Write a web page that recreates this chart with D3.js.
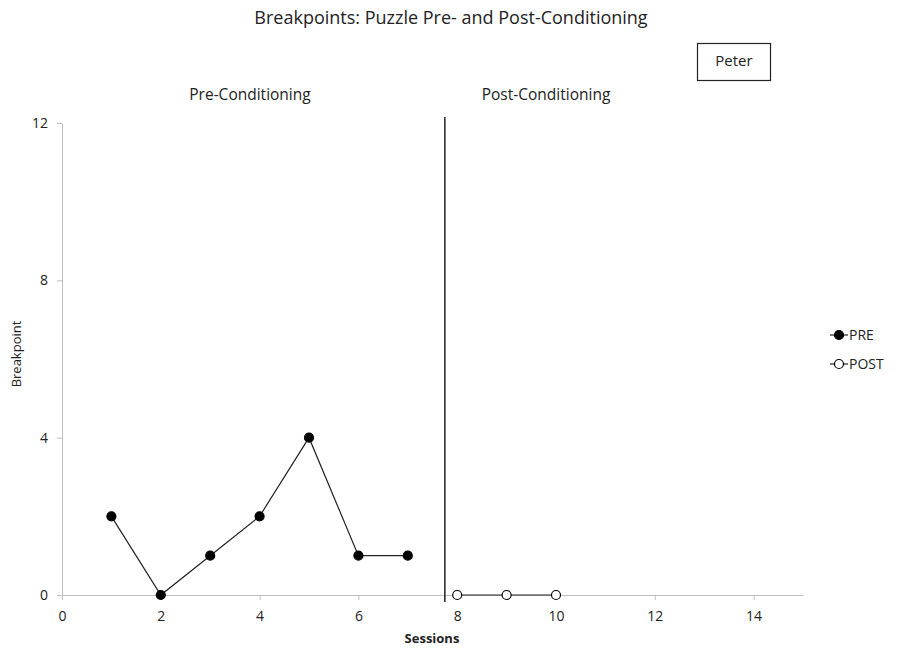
<!DOCTYPE html>
<html>
<head>
<meta charset="utf-8">
<script src="https://cdn.jsdelivr.net/npm/d3@7"></script>
<style>
  body { margin: 0; background: #fff; }
  text { font-family: "Open Sans", "Noto Sans", sans-serif; fill: #222; }
</style>
</head>
<body>
<div id="chart"></div>
<script>
// data
var preSessions = [1, 2, 3, 4, 5, 6, 7];
var preValues = [2, 0, 1, 2, 4, 1, 1];
var postSessions = [8, 9, 10];
var postValues = [0, 0, 0];
var xTicks = [0, 2, 4, 6, 8, 10, 12, 14];
var yTicks = [0, 4, 8, 12];
var phaseChange = 7.75;

var width = 903, height = 649;

var svg = d3.select("#chart").append("svg")
    .attr("width", width)
    .attr("height", height);

var x = d3.scaleLinear().domain([0, 15]).range([62, 803]);
var y = d3.scaleLinear().domain([0, 12]).range([595, 123]);

//Axes
var xAxis = d3.axisBottom(x).tickValues(xTicks).tickSize(5).tickSizeOuter(0).tickPadding(11);
var yAxis = d3.axisLeft(y).tickValues(yTicks).tickSize(5).tickSizeOuter(0).tickPadding(9);

var gx = svg.append("g").attr("transform", "translate(0," + y(0) + ")").call(xAxis);
var gy = svg.append("g").attr("transform", "translate(" + x(0) + ",0)").call(yAxis);

[gx, gy].forEach(function(g) {
    g.select(".domain").attr("stroke", "#bfbfbf");
    g.selectAll(".tick line").attr("stroke", "#bfbfbf");
    g.selectAll(".tick text").style("font-size", "14px");
});

//Phase change line
svg.append("line")
    .attr("x1", x(phaseChange)).attr("x2", x(phaseChange))
    .attr("y1", 117).attr("y2", 602)
    .attr("stroke", "#222").attr("stroke-width", 1.5);

//Series
var line = d3.line()
    .x(function(d) { return x(d[0]); })
    .y(function(d) { return y(d[1]); });

var pre = preSessions.map(function(s, i) { return [s, preValues[i]]; });
var post = postSessions.map(function(s, i) { return [s, postValues[i]]; });

function series(data, fill) {
    svg.append("path")
        .datum(data)
        .attr("d", line)
        .attr("fill", "none")
        .attr("stroke", "#222")
        .attr("stroke-width", 1.2);
    svg.selectAll(null)
        .data(data)
        .enter()
        .append("circle")
        .attr("cx", function(d) { return x(d[0]); })
        .attr("cy", function(d) { return y(d[1]); })
        .attr("r", 4.5)
        .attr("fill", fill)
        .attr("stroke", "#000")
        .attr("stroke-width", 1.2);
}
series(pre, "#000");
series(post, "#fff");

//Titles
svg.append("text")
    .attr("x", 451).attr("y", 24)
    .attr("text-anchor", "middle")
    .style("font-size", "18px")
    .text("Breakpoints: Puzzle Pre- and Post-Conditioning");

svg.append("text")
    .attr("x", 250).attr("y", 100)
    .attr("text-anchor", "middle")
    .style("font-size", "15.5px")
    .text("Pre-Conditioning");

svg.append("text")
    .attr("x", 546).attr("y", 100)
    .attr("text-anchor", "middle")
    .style("font-size", "15.5px")
    .text("Post-Conditioning");

svg.append("text")
    .attr("x", 432).attr("y", 643)
    .attr("text-anchor", "middle")
    .style("font-size", "13px")
    .style("font-weight", "bold")
    .text("Sessions");

svg.append("text")
    .attr("transform", "translate(21,354) rotate(-90)")
    .attr("text-anchor", "middle")
    .style("font-size", "13px")
    .text("Breakpoint");

//Participant box
svg.append("rect")
    .attr("x", 697.5).attr("y", 43.5)
    .attr("width", 73).attr("height", 37)
    .attr("fill", "#fff")
    .attr("stroke", "#222")
    .attr("stroke-width", 1.2);
svg.append("text")
    .attr("x", 734).attr("y", 66)
    .attr("text-anchor", "middle")
    .style("font-size", "15px")
    .text("Peter");

//Legend
var legend = [["PRE", "#000", 335], ["POST", "#fff", 364]];
legend.forEach(function(l) {
    var g = svg.append("g");
    g.append("line")
        .attr("x1", 830).attr("x2", 848)
        .attr("y1", l[2]).attr("y2", l[2])
        .attr("stroke", "#222").attr("stroke-width", 1.2);
    g.append("circle")
        .attr("cx", 839).attr("cy", l[2]).attr("r", 4.5)
        .attr("fill", l[1]).attr("stroke", "#000").attr("stroke-width", 1.2);
    g.append("text")
        .attr("x", 849).attr("y", l[2] + 5)
        .style("font-size", "14px")
        .text(l[0]);
});
</script>
</body>
</html>
